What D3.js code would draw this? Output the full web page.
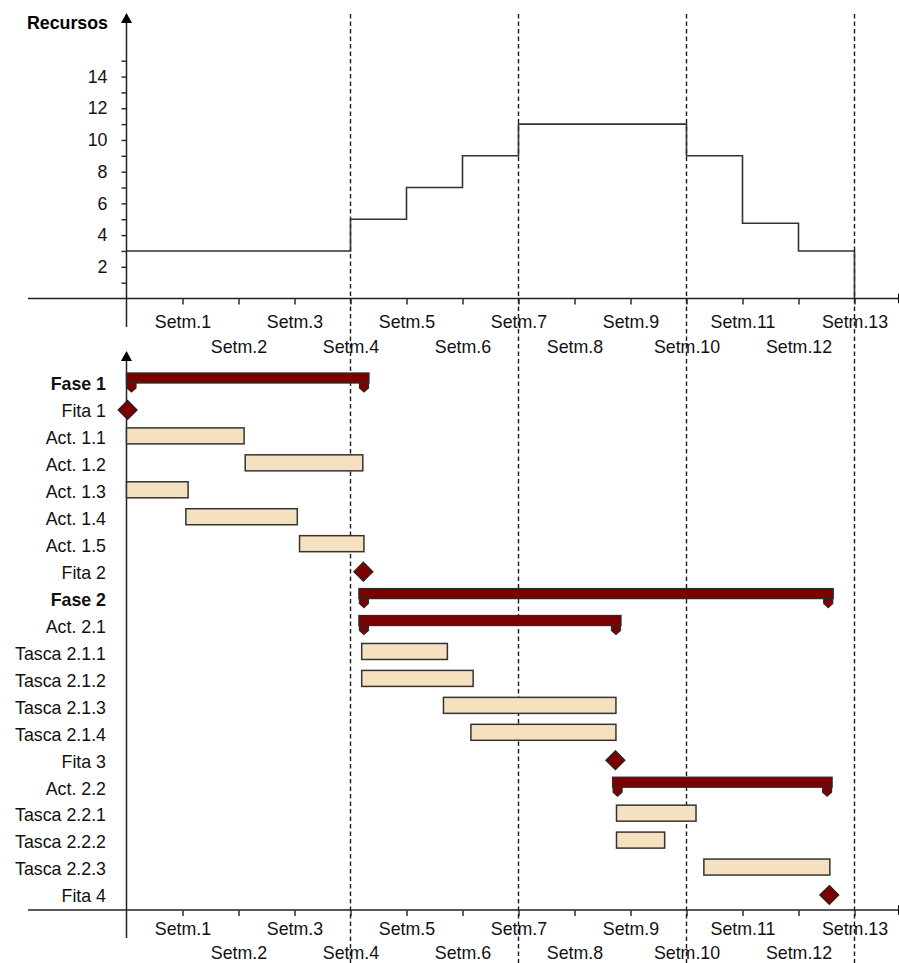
<!DOCTYPE html>
<html>
<head>
<meta charset="utf-8">
<script src="https://cdn.jsdelivr.net/npm/d3@7/dist/d3.min.js"></script>
<style>
  html, body { margin: 0; padding: 0; background: #fff; }
  svg { display: block; font-family: "Liberation Sans", Arial, sans-serif; }
</style>
</head>
<body>
<svg id="chart" width="899" height="963"></svg>
<script>
// ---- data ----
const weeks = d3.range(1, 14);                       // Setm.1 .. Setm.13
const weekLabels = weeks.map(w => "Setm." + w);
const phaseBreaks = [4, 7, 10, 13];                  // dashed milestones

// resources needed per week (week index 0..12)
const resourceWeeks = d3.range(0, 13);
const resourceLevels = [3, 3, 3, 3, 5, 7, 9, 11, 11, 11, 9, 4.75, 3];
const resourceTicks = d3.range(1, 16);

// Gantt rows
const taskNames = ["Fase 1", "Fita 1", "Act. 1.1", "Act. 1.2", "Act. 1.3", "Act. 1.4", "Act. 1.5",
  "Fita 2", "Fase 2", "Act. 2.1", "Tasca 2.1.1", "Tasca 2.1.2", "Tasca 2.1.3", "Tasca 2.1.4",
  "Fita 3", "Act. 2.2", "Tasca 2.2.1", "Tasca 2.2.2", "Tasca 2.2.3", "Fita 4"];
const taskKinds = ["summary", "milestone", "task", "task", "task", "task", "task",
  "milestone", "summary", "summary", "task", "task", "task", "task",
  "milestone", "summary", "task", "task", "task", "milestone"];
const taskStart = [0, 0.02, 0, 2.12, 0, 1.06, 3.09, 4.23, 4.15, 4.15, 4.2, 4.2, 5.66, 6.15,
  8.73, 8.68, 8.75, 8.75, 10.31, 12.55];
const taskEnd = [4.33, 0.02, 2.1, 4.22, 1.1, 3.05, 4.24, 4.23, 12.62, 8.83, 5.73, 6.19, 8.74, 8.74,
  8.73, 12.6, 10.17, 9.61, 12.56, 12.55];
const boldRows = ["Fase 1", "Fase 2"];

// ---- layout ----
const svg = d3.select("#chart");
const ink = "#222";
const maroon = "#7d0000";
const beige = "#f5e1c0";
const fontSize = 17.8;

const x = d3.scaleLinear().domain([0, 13]).range([126.5, 854.5]);
const x0 = x(0);

const topAxisY = 298.5;
const yRes = d3.scaleLinear().domain([0, 15]).range([topAxisY, 60.7]);

const botAxisY = 910;
const yRow = d3.scalePoint().domain(taskNames).range([384, 896]);

// arrowhead helpers
function upArrow(cx, tipY) {
  svg.append("path")
    .attr("d", `M${cx},${tipY} L${cx + 5.5},${tipY + 10} L${cx - 5.5},${tipY + 10} Z`)
    .attr("fill", "#000");
}
function rightArrow(tipX, cy) {
  svg.append("path")
    .attr("d", `M${tipX},${cy} L${tipX - 10},${cy - 5} L${tipX - 10},${cy + 5} Z`)
    .attr("fill", "#000");
}

// time axis with alternating label rows (odd weeks above, even weeks below)
function timeAxis(axisY, rowOffset, rowGap) {
  const g = svg.append("g").attr("transform", `translate(0,${axisY})`)
    .call(d3.axisBottom(x).tickValues(weeks).tickSize(6).tickFormat((d, i) => weekLabels[i]));
  g.select(".domain").remove();
  g.selectAll(".tick line").attr("stroke", ink).attr("stroke-width", 1.4);
  g.selectAll(".tick text")
    .attr("fill", "#111")
    .attr("font-size", fontSize)
    .attr("font-family", "Liberation Sans, Arial, sans-serif")
    .attr("dy", null)
    .attr("y", d => (d % 2 === 1 ? rowOffset : rowOffset + rowGap));
  svg.append("line")
    .attr("x1", 28).attr("x2", 898)
    .attr("y1", axisY).attr("y2", axisY)
    .attr("stroke", ink).attr("stroke-width", 1.5);
  rightArrow(908, axisY);
}

// ---- dashed phase lines ----
svg.append("g").selectAll("line").data(phaseBreaks).join("line")
  .attr("x1", d => x(d)).attr("x2", d => x(d))
  .attr("y1", 14).attr("y2", 963)
  .attr("stroke", "#1a1a1a").attr("stroke-width", 1.4)
  .attr("stroke-dasharray", "4.5,3");

// ---- top chart: resources ----
const yAxisG = svg.append("g").attr("transform", `translate(${x0},0)`)
  .call(d3.axisLeft(yRes).tickValues(resourceTicks).tickSize(5).tickPadding(14)
    .tickFormat(d => (d % 2 === 0 ? d : "")));
yAxisG.select(".domain").remove();
yAxisG.selectAll(".tick line").attr("stroke", ink).attr("stroke-width", 1.4);
yAxisG.selectAll(".tick text")
  .attr("fill", "#111").attr("font-size", fontSize)
  .attr("font-family", "Liberation Sans, Arial, sans-serif");

svg.append("line")
  .attr("x1", x0).attr("x2", x0).attr("y1", 20).attr("y2", 327)
  .attr("stroke", ink).attr("stroke-width", 1.5);
upArrow(x0, 13);

svg.append("text")
  .attr("x", 108).attr("y", 29)
  .attr("text-anchor", "end")
  .attr("font-weight", "bold")
  .attr("font-size", fontSize)
  .attr("fill", "#000")
  .text("Recursos");

timeAxis(topAxisY, 29, 25);

// resource step line
const stepPts = resourceWeeks.map((w, i) => [w, resourceLevels[i]]);
stepPts.push([13, resourceLevels[resourceLevels.length - 1]]);
stepPts.push([13, 0]);
const stepLine = d3.line()
  .x(d => x(d[0])).y(d => yRes(d[1]))
  .curve(d3.curveStepAfter);
svg.append("path")
  .attr("d", stepLine(stepPts))
  .attr("fill", "none")
  .attr("stroke", "#333")
  .attr("stroke-width", 1.6);

// ---- bottom chart: Gantt ----
svg.append("line")
  .attr("x1", x0).attr("x2", x0).attr("y1", 358).attr("y2", 938)
  .attr("stroke", ink).attr("stroke-width", 1.5);
upArrow(x0, 351);

timeAxis(botAxisY, 25, 23.5);

// row labels
svg.append("g").selectAll("text").data(taskNames).join("text")
  .attr("x", 106)
  .attr("y", d => yRow(d) + 6.3)
  .attr("text-anchor", "end")
  .attr("font-size", fontSize)
  .attr("font-weight", d => (boldRows.includes(d) ? "bold" : "normal"))
  .attr("fill", "#111")
  .text(d => d);

const rows = taskNames.map((name, i) => ({
  name, kind: taskKinds[i], start: taskStart[i], end: taskEnd[i]
}));

// plain tasks
const barH = 16;
svg.append("g").selectAll("rect")
  .data(rows.filter(r => r.kind === "task")).join("rect")
  .attr("x", d => x(d.start))
  .attr("y", d => yRow(d.name) - 2 - barH / 2)
  .attr("width", d => x(d.end) - x(d.start))
  .attr("height", barH)
  .attr("fill", beige)
  .attr("stroke", "#333")
  .attr("stroke-width", 1.5);

// summary bars with pointed end caps
const summaries = svg.append("g").selectAll("g")
  .data(rows.filter(r => r.kind === "summary")).join("g");
const capW = 9;
function capPath(cx0, top) {
  return `M${cx0},${top} L${cx0 + capW},${top} L${cx0 + capW},${top + 5} ` +
         `L${cx0 + capW / 2},${top + 9} L${cx0},${top + 5} Z`;
}
summaries.append("path")
  .attr("d", d => capPath(x(d.start) + 0.5, yRow(d.name) - 1))
  .attr("fill", maroon).attr("stroke", "#2a2a2a").attr("stroke-width", 1.2);
summaries.append("path")
  .attr("d", d => capPath(x(d.end) - capW - 0.5, yRow(d.name) - 1))
  .attr("fill", maroon).attr("stroke", "#2a2a2a").attr("stroke-width", 1.2);
summaries.append("rect")
  .attr("x", d => x(d.start))
  .attr("y", d => yRow(d.name) - 11)
  .attr("width", d => x(d.end) - x(d.start))
  .attr("height", 10)
  .attr("fill", maroon)
  .attr("stroke", "#2a2a2a")
  .attr("stroke-width", 1.3);

// milestones
const dia = 9.5;
svg.append("g").selectAll("path")
  .data(rows.filter(r => r.kind === "milestone")).join("path")
  .attr("d", d => {
    const cx = x(d.start), cy = yRow(d.name) - 1;
    return `M${cx},${cy - dia} L${cx + dia},${cy} L${cx},${cy + dia} L${cx - dia},${cy} Z`;
  })
  .attr("fill", maroon)
  .attr("stroke", "#222")
  .attr("stroke-width", 1.2);
</script>
</body>
</html>
